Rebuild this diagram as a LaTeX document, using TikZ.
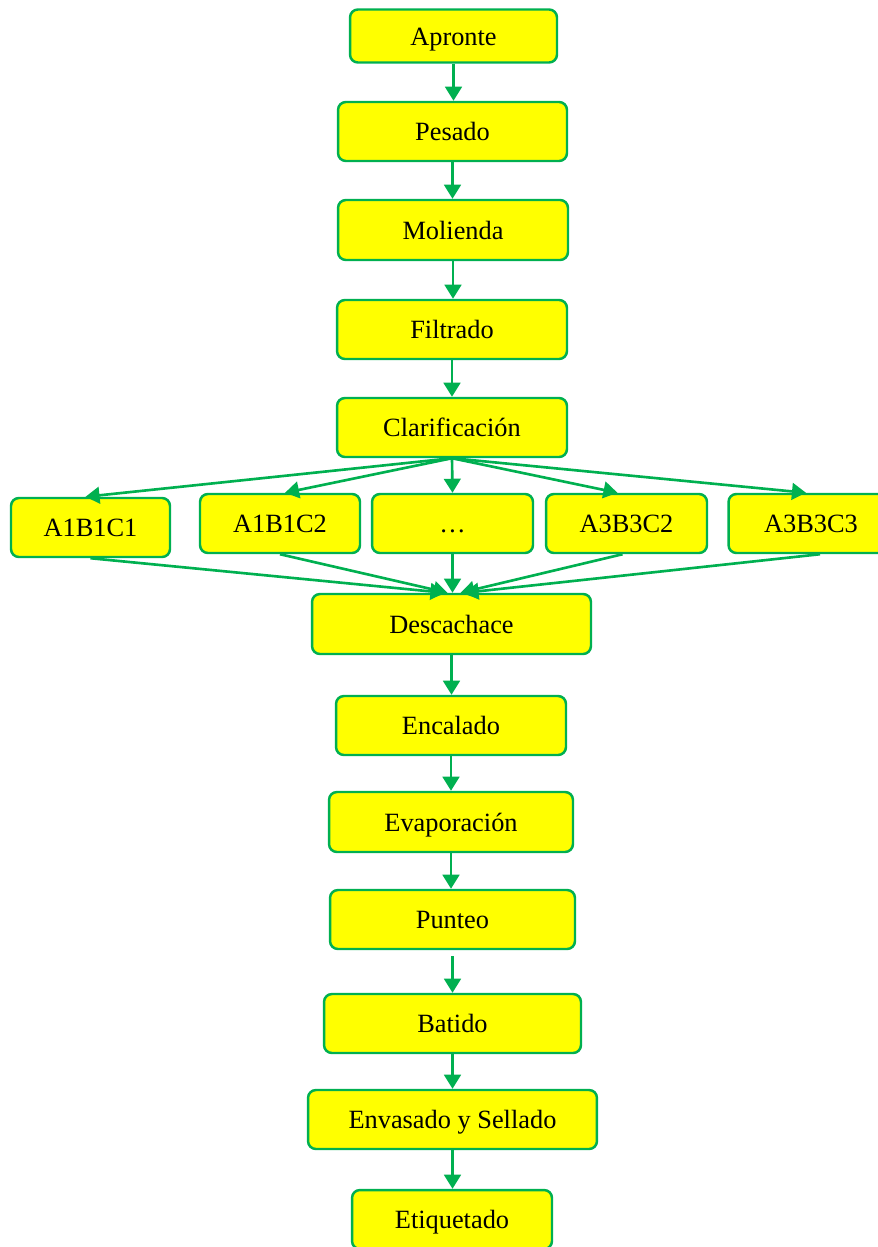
\documentclass[tikz,border=0pt]{standalone}
\usepackage{fontspec}
\setmainfont{Liberation Serif}
\usepackage{xcolor}
\definecolor{verde}{HTML}{00B050}
\definecolor{amarillo}{HTML}{FFFF00}
\usetikzlibrary{calc,arrows.meta}

\tikzset{
	etapa/.style={draw=verde, fill=amarillo, line width=1.4pt, rounded corners=4.5pt,
		minimum height=1.18cm, inner sep=0pt, text height=10.5pt, text depth=0pt,
		font=\fontsize{15}{18}\selectfont},
	flujo/.style={draw=verde, line width=1.5pt, -{Triangle[length=8pt,width=9.5pt]}}
}

\begin{document}
\begin{tikzpicture}[x=0.02cm,y=-0.02cm]

			\useasboundingbox (0,0) rectangle (878,1247);

			\node[etapa, minimum width=4.14cm, minimum height=1.06cm] (apronte) at (453.5,36) {Apronte};
			\node[etapa, minimum width=4.58cm] (pesado) at (452.5,131.5) {Pesado};
			\node[etapa, minimum width=4.6cm, minimum height=1.2cm] (molienda) at (453,230) {Molienda};
			\node[etapa, minimum width=4.6cm] (filtrado) at (452,329.5) {Filtrado};
			\node[etapa, minimum width=4.6cm] (clarif) at (452,427.5) {Clarificación};

			\node[etapa, minimum width=3.18cm] (a1b1c1) at (90.5,527.5) {A1B1C1};
			\node[etapa, minimum width=3.2cm] (a1b1c2) at (280,523.5) {A1B1C2};
			\node[etapa, minimum width=3.22cm] (puntos) at (452.5,523.5) {\dots};
			\node[etapa, minimum width=3.22cm] (a3b3c2) at (626.5,523.5) {A3B3C2};
			\node[etapa, minimum width=3.3cm] (a3b3c3) at (811,523.5) {A3B3C3};

			\node[etapa, minimum width=5.58cm, minimum height=1.2cm] (descachace) at (451.5,624) {Descachace};
			\node[etapa, minimum width=4.6cm] (encalado) at (451,725.5) {Encalado};
			\node[etapa, minimum width=4.88cm, minimum height=1.2cm] (evapor) at (451,822) {Evaporación};
			\node[etapa, minimum width=4.9cm] (punteo) at (452.5,919.5) {Punteo};
			\node[etapa, minimum width=5.14cm] (batido) at (452.5,1023.5) {Batido};
			\node[etapa, minimum width=5.78cm] (envasado) at (452.5,1119.5) {Envasado y Sellado};
			\node[etapa, minimum width=4cm] (etiquetado) at (452,1219.5) {Etiquetado};

			\draw[flujo] (apronte.south) -- (apronte.south |- pesado.north);
			\draw[flujo] (pesado.south) -- (pesado.south |- molienda.north);
			\draw[flujo] (molienda.south) -- (molienda.south |- filtrado.north);
			\draw[flujo] (filtrado.south) -- (filtrado.south |- clarif.north);

			\draw[flujo] (clarif.south) -- ($(a1b1c1.north)+(-5,0)$);
			\draw[flujo] (clarif.south) -- ($(a1b1c2.north)+(5,0)$);
			\draw[flujo] (clarif.south) -- (puntos.north);
			\draw[flujo] (clarif.south) -- ($(a3b3c2.north)+(-9,0)$);
			\draw[flujo] (clarif.south) -- ($(a3b3c3.north)+(-5,0)$);

			\draw[flujo] (a1b1c1.south) -- ($(descachace.north)+(-7,0)$);
			\draw[flujo] (a1b1c2.south) -- ($(descachace.north)+(-4,0)$);
			\draw[flujo] (puntos.south) -- (puntos.south |- descachace.north);
			\draw[flujo] ($(a3b3c2.south)+(-4,0)$) -- ($(descachace.north)+(9,0)$);
			\draw[flujo] ($(a3b3c3.south)+(9,0)$) -- ($(descachace.north)+(13,0)$);

			\draw[flujo] (descachace.south) -- (descachace.south |- encalado.north);
			\draw[flujo] (encalado.south) -- (encalado.south |- evapor.north);
			\draw[flujo] (evapor.south) -- (evapor.south |- punteo.north);
			\draw[flujo] ($(punteo.south)+(0,6)$) -- (punteo.south |- batido.north);
			\draw[flujo] (batido.south) -- (batido.south |- envasado.north);
			\draw[flujo] (envasado.south) -- (envasado.south |- etiquetado.north);

		\end{tikzpicture}
\end{document}
